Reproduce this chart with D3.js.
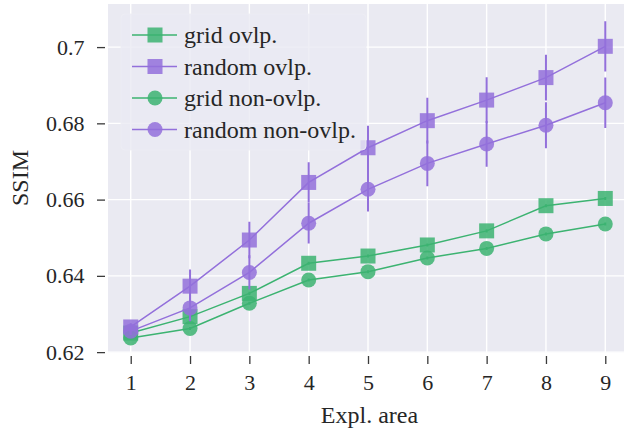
<!DOCTYPE html>
<html>
<head>
<meta charset="utf-8">
<script src="https://cdn.jsdelivr.net/npm/d3@7"></script>
</head>
<body style="margin:0">
<svg id="fig" width="624" height="431"></svg>
<script>
// explanation area sizes on the x axis
var areas = [1, 2, 3, 4, 5, 6, 7, 8, 9];
var yTicks = [0.62, 0.64, 0.66, 0.68, 0.7];
var yTickLabels = ["0.62", "0.64", "0.66", "0.68", "0.7"];

// mean SSIM per series
var gridOvlp      = [0.6250, 0.6293, 0.6354, 0.6433, 0.6452, 0.6481, 0.6518, 0.6584, 0.6603];
var randomOvlp    = [0.6266, 0.6373, 0.6494, 0.6645, 0.6736, 0.6807, 0.6861, 0.6920, 0.7002];
var gridNonOvlp   = [0.6237, 0.6262, 0.6328, 0.6389, 0.6411, 0.6447, 0.6472, 0.6510, 0.6536];
var randomNonOvlp = [0.6255, 0.6316, 0.6409, 0.6538, 0.6627, 0.6695, 0.6746, 0.6795, 0.6854];

// error bar half widths
var gridOvlpErr      = [0.0004, 0.0004, 0.0004, 0.0004, 0.0004, 0.0004, 0.0004, 0.0004, 0.0004];
var randomOvlpErr    = [0.0010, 0.0044, 0.0048, 0.0053, 0.0058, 0.0060, 0.0060, 0.0060, 0.0066];
var gridNonOvlpErr   = [0.0004, 0.0004, 0.0004, 0.0004, 0.0004, 0.0004, 0.0004, 0.0004, 0.0004];
var randomNonOvlpErr = [0.0010, 0.0035, 0.0045, 0.0053, 0.0058, 0.0060, 0.0060, 0.0060, 0.0066];

var green = "#3cb371", purple = "#9370db";

var series = [
  {name: "grid ovlp.",       vals: gridOvlp,      err: gridOvlpErr,      color: green,  shape: "square"},
  {name: "random ovlp.",     vals: randomOvlp,    err: randomOvlpErr,    color: purple, shape: "square"},
  {name: "grid non-ovlp.",   vals: gridNonOvlp,   err: gridNonOvlpErr,   color: green,  shape: "circle"},
  {name: "random non-ovlp.", vals: randomNonOvlp, err: randomNonOvlpErr, color: purple, shape: "circle"}
];

var plot = {left: 108, right: 628, top: 4, bottom: 352.5};
var INK = "#262626";
var FONT = "Liberation Serif";

var svg = d3.select("#fig");

var x = d3.scaleLinear().domain([0.617, 9.383]).range([plot.left, plot.right]);
var y = d3.scaleLinear().domain([0.6199, 0.7113]).range([plot.bottom, plot.top]);

svg.append("rect")
  .attr("x", plot.left).attr("y", plot.top)
  .attr("width", plot.right - plot.left).attr("height", plot.bottom - plot.top)
  .attr("fill", "#eaeaf2");

// grid
var grid = svg.append("g").attr("stroke", "#fff").attr("stroke-width", 1.4);
grid.selectAll(".gx").data(areas).enter().append("line")
  .attr("x1", d => x(d)).attr("x2", d => x(d))
  .attr("y1", plot.top).attr("y2", plot.bottom);
grid.selectAll(".gy").data(yTicks).enter().append("line")
  .attr("x1", plot.left).attr("x2", plot.right)
  .attr("y1", d => y(d)).attr("y2", d => y(d));

// axes
var xAxis = d3.axisBottom(x).tickValues(areas).tickSize(8).tickPadding(10.5).tickFormat(d3.format("d"));
var yAxis = d3.axisLeft(y).tickValues(yTicks).tickSize(8).tickPadding(12.5)
  .tickFormat((d, i) => yTickLabels[i]);

var gx = svg.append("g").attr("transform", "translate(0," + (plot.bottom + 3.5) + ")").call(xAxis);
var gy = svg.append("g").attr("transform", "translate(" + (plot.left - 3) + ",0)").call(yAxis);
[gx, gy].forEach(function(g) {
  g.attr("font-family", FONT).attr("font-size", 22);
  g.select(".domain").remove();
  g.selectAll(".tick line").attr("stroke", "#3a3a3a").attr("stroke-width", 1.3);
  g.selectAll(".tick text").attr("fill", INK).attr("font-family", FONT).attr("font-size", 22);
});

svg.append("text").attr("x", 369.5).attr("y", 423).attr("text-anchor", "middle")
  .attr("font-family", FONT).attr("font-size", 24).attr("fill", INK).text("Expl. area");
svg.append("text").attr("transform", "translate(27.5,178) rotate(-90)").attr("text-anchor", "middle")
  .attr("font-family", FONT).attr("font-size", 24).attr("fill", INK).text("SSIM");

svg.append("defs").append("clipPath").attr("id", "plotclip")
  .append("rect").attr("x", plot.left).attr("y", plot.top)
  .attr("width", plot.right - plot.left).attr("height", plot.bottom - plot.top);

var body = svg.append("g").attr("clip-path", "url(#plotclip)");

var line = d3.line().x((d, i) => x(areas[i])).y(d => y(d));

function drawMarker(g, shape, color) {
  if (shape === "square") {
    g.append("rect").attr("x", -7.5).attr("y", -7.5).attr("width", 15).attr("height", 15)
      .attr("fill", color).attr("fill-opacity", 0.85);
  } else {
    g.append("circle").attr("r", 7.5).attr("fill", color).attr("fill-opacity", 0.85);
  }
}

series.forEach(function(s) {
  var g = body.append("g");
  g.selectAll(".err").data(s.vals).enter().append("line")
    .attr("x1", (d, i) => x(areas[i])).attr("x2", (d, i) => x(areas[i]))
    .attr("y1", (d, i) => y(d - s.err[i])).attr("y2", (d, i) => y(d + s.err[i]))
    .attr("stroke", s.color).attr("stroke-width", 2);
  g.append("path").datum(s.vals).attr("d", line)
    .attr("fill", "none").attr("stroke", s.color).attr("stroke-width", 1.5);
  s.vals.forEach(function(v, i) {
    var m = g.append("g").attr("transform", "translate(" + x(areas[i]) + "," + y(v) + ")");
    drawMarker(m, s.shape, s.color);
  });
});

// legend
var legend = svg.append("g");
legend.append("rect").attr("x", 121).attr("y", 14).attr("width", 245).attr("height", 136)
  .attr("rx", 4).attr("fill", "#eaeaf2").attr("fill-opacity", 0.8)
  .attr("stroke", "#eeeef4").attr("stroke-opacity", 0.8);
series.forEach(function(s, i) {
  var cy = 35 + i * 31.5;
  var row = legend.append("g").attr("transform", "translate(0," + cy + ")");
  row.append("line").attr("x1", 132).attr("x2", 177).attr("stroke", s.color).attr("stroke-width", 1.5);
  var m = row.append("g").attr("transform", "translate(155,0)");
  drawMarker(m, s.shape, s.color);
  row.append("text").attr("x", 184).attr("y", 8).attr("font-family", FONT).attr("font-size", 24)
    .attr("fill", INK).text(s.name);
});
</script>
</body>
</html>
